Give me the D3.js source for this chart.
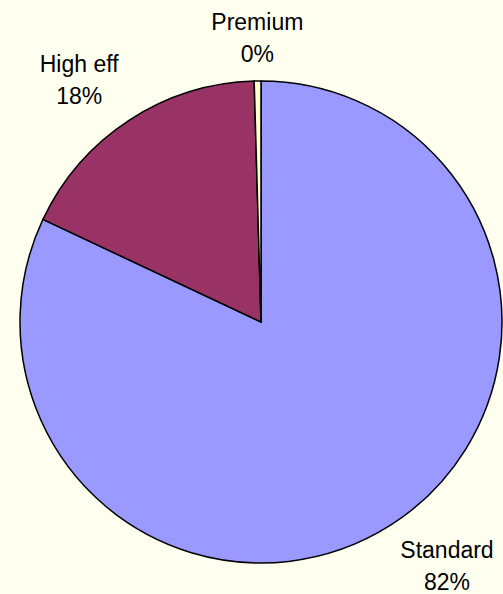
<!DOCTYPE html>
<html>
<head>
<meta charset="utf-8">
<script src="https://cdn.jsdelivr.net/npm/d3@7"></script>
<style>
  html, body { margin: 0; padding: 0; background: #FFFFF0; }
  svg { display: block; }
  text { font-family: Arial, "Liberation Sans", sans-serif; fill: #000; }
</style>
</head>
<body>
<svg id="chart" width="503" height="594"></svg>
<script>
// Share of units by efficiency class (percent)
const categories = ["Standard", "High eff", "Premium"];
const shares = [82.0, 17.55, 0.45];
const colors = ["#9999FF", "#993366", "#FFFFCC"];

const width = 503, height = 594;
const cx = 261, cy = 322, radius = 241;
const fontSize = 23, lineGap = 32, capHeight = 16.5;

const svg = d3.select("#chart");
const g = svg.append("g").attr("transform", `translate(${cx},${cy})`);

const total = d3.sum(shares);
const data = categories.map((c, i) => ({ name: c, value: shares[i], color: colors[i] }));

// Slices run clockwise from 12 o'clock in category order
const pie = d3.pie().value(d => d.value).sort(null);
const arc = d3.arc().innerRadius(0).outerRadius(radius);
const arcs = pie(data);

g.selectAll("path.slice")
  .data(arcs)
  .join("path")
  .attr("class", "slice")
  .attr("d", arc)
  .attr("fill", d => d.data.color)
  .attr("stroke", "#000")
  .attr("stroke-width", 1.5)
  .attr("stroke-linejoin", "miter");

// Labels sit outside the rim: the corner of the label box nearest the
// pie is placed on a ring just beyond the edge, along the slice's mid-angle.
const labelRing = radius + 19;
const fmt = v => Math.round(v / total * 100) + "%";

arcs.forEach(a => {
  const mid = (a.startAngle + a.endAngle) / 2;
  const ux = Math.sin(mid), uy = -Math.cos(mid);
  const lab = g.append("g");
  const t1 = lab.append("text").attr("text-anchor", "middle").attr("font-size", fontSize).text(a.data.name);
  const t2 = lab.append("text").attr("text-anchor", "middle").attr("font-size", fontSize).text(fmt(a.data.value));
  const w = Math.max(t1.node().getComputedTextLength(), t2.node().getComputedTextLength());
  const h = capHeight + lineGap;
  const px = ux * labelRing, py = uy * labelRing;
  const bx = Math.abs(ux) < 0.1 ? px : px + Math.sign(ux) * w / 2;
  const by = py + Math.sign(uy) * h / 2;
  const top = by - h / 2;
  t1.attr("x", bx).attr("y", top + capHeight);
  t2.attr("x", bx).attr("y", top + capHeight + lineGap);
});
</script>
</body>
</html>
